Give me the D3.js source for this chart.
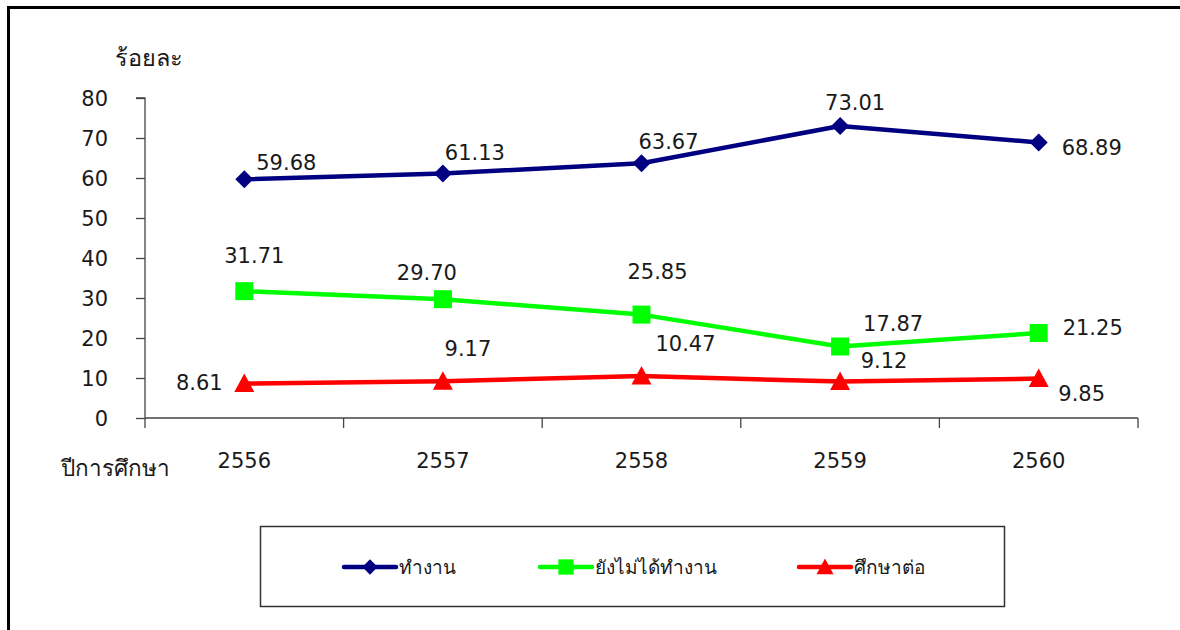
<!DOCTYPE html>
<html>
<head>
<meta charset="utf-8">
<script src="https://cdn.jsdelivr.net/npm/d3@7"></script>
<style>
  html, body { margin: 0; padding: 0; background: #fff; }
  svg { display: block; }
  text { font-family: "DejaVu Sans", Tahoma, sans-serif; fill: #1a1a1a; }
</style>
</head>
<body>
<svg id="chart" width="1180" height="630"></svg>
<script>
// ---- data ----
const years = ["2556", "2557", "2558", "2559", "2560"];
const seriesNames = ["ทำงาน", "ยังไม่ได้ทำงาน", "ศึกษาต่อ"];
const working = [59.68, 61.13, 63.67, 73.01, 68.89];
const notWorking = [31.71, 29.70, 25.85, 17.87, 21.25];
const studying = [8.61, 9.17, 10.47, 9.12, 9.85];
const yTicks = [0, 10, 20, 30, 40, 50, 60, 70, 80];
const yTitle = "ร้อยละ";
const xTitle = "ปีการศึกษา";

// label placement offsets (px) relative to each point, as in the original
const labelOffsets = [
  [[42, -17], [32, -21], [27, -22], [15, -24], [53, 5]],
  [[10, -36], [-16, -27], [16, -43], [53, -23], [54, -6]],
  [[-45, -1], [25, -33], [44, -33], [44, -21], [43, 15]]
];

const series = [
  { name: seriesNames[0], values: working, color: "#000080", marker: "diamond" },
  { name: seriesNames[1], values: notWorking, color: "#00FF00", marker: "square" },
  { name: seriesNames[2], values: studying, color: "#FF0000", marker: "triangle" }
];

const svg = d3.select("#chart");

// outer frame (cropped at right/bottom as in the original)
svg.append("rect")
  .attr("x", 8.5).attr("y", 7.5).attr("width", 1300).attr("height", 800)
  .attr("fill", "none").attr("stroke", "#000").attr("stroke-width", 3);

const plot = { left: 145, right: 1138, top: 98, bottom: 418 };

const x = d3.scaleBand().domain(years).range([plot.left, plot.right]).padding(0);
const y = d3.scaleLinear().domain([0, 80]).range([plot.bottom, plot.top]);
const cx = d => x(d) + x.bandwidth() / 2;

// y axis
const yAxis = d3.axisLeft(y).tickValues(yTicks).tickSize(9).tickPadding(28).tickFormat(d3.format("d"));
const gy = svg.append("g").attr("transform", `translate(${plot.left},0)`).call(yAxis);
gy.select(".domain").attr("stroke", "#444").attr("stroke-width", 1.3).attr("d", `M-9,${plot.top}H0V${plot.bottom}`);
gy.selectAll(".tick line").attr("stroke", "#444").attr("stroke-width", 1.3);
gy.selectAll(".tick text").attr("font-size", 21).attr("fill", "#1a1a1a")
  .attr("font-family", "'DejaVu Sans', Tahoma, sans-serif").attr("dy", "0.36em");

// x axis: ticks at category boundaries
const xAxisG = svg.append("g").attr("transform", `translate(0,${plot.bottom})`);
xAxisG.append("line").attr("x1", plot.left).attr("x2", plot.right).attr("stroke", "#444").attr("stroke-width", 1.3);
const boundaries = years.map(d => x(d)).concat([x(years[years.length - 1]) + x.bandwidth()]);
xAxisG.selectAll("line.tk").data(boundaries).enter().append("line")
  .attr("class", "tk").attr("x1", d => d).attr("x2", d => d).attr("y1", 0).attr("y2", 10)
  .attr("stroke", "#444").attr("stroke-width", 1.3);
xAxisG.selectAll("text.lbl").data(years).enter().append("text")
  .attr("class", "lbl").attr("x", d => cx(d)).attr("y", 50)
  .attr("text-anchor", "middle").attr("font-size", 21).text(d => d);

// axis titles
svg.append("text").attr("x", 115).attr("y", 66).attr("font-size", 23.5).text(yTitle);
svg.append("text").attr("x", 61).attr("y", 476).attr("font-size", 22.5).text(xTitle);

// markers
function markerPath(type, s) {
  if (type === "diamond") return `M0,${-s}L${s},0L0,${s}L${-s},0Z`;
  if (type === "square") return `M${-s},${-s}H${s}V${s}H${-s}Z`;
  return `M0,${-s}L${s},${s * 0.85}H${-s}Z`;
}
const markerSize = { diamond: 9, square: 9, triangle: 10 };

const line = d3.line().x((d, i) => cx(years[i])).y(d => y(d));

series.forEach((s, si) => {
  svg.append("path").datum(s.values).attr("d", line)
    .attr("fill", "none").attr("stroke", s.color).attr("stroke-width", 4.5)
    .attr("stroke-linejoin", "round");
  svg.selectAll(null).data(s.values).enter().append("path")
    .attr("transform", (d, i) => `translate(${cx(years[i])},${y(d)})`)
    .attr("d", markerPath(s.marker, markerSize[s.marker]))
    .attr("fill", s.color);
  svg.selectAll(null).data(s.values).enter().append("text")
    .attr("x", (d, i) => cx(years[i]) + labelOffsets[si][i][0])
    .attr("y", (d, i) => y(d) + labelOffsets[si][i][1])
    .attr("dy", "0.36em").attr("text-anchor", "middle").attr("font-size", 21)
    .text(d => d3.format(".2f")(d));
});

// legend
const legend = svg.append("g");
legend.append("rect").attr("x", 260.5).attr("y", 526.5).attr("width", 744).attr("height", 80)
  .attr("fill", "#fff").attr("stroke", "#333").attr("stroke-width", 1.5);
const legendX = [344, 540, 799];
series.forEach((s, i) => {
  const g = legend.append("g").attr("transform", `translate(${legendX[i]},567)`);
  g.append("line").attr("x1", 0).attr("x2", 52).attr("stroke", s.color).attr("stroke-width", 4.5).attr("stroke-linecap", "round");
  g.append("path").attr("transform", "translate(26,0)").attr("d", markerPath(s.marker, markerSize[s.marker] * 0.85)).attr("fill", s.color);
  g.append("text").attr("x", 55).attr("y", 0).attr("dy", "0.36em").attr("font-size", 19).text(s.name);
});
</script>
</body>
</html>
